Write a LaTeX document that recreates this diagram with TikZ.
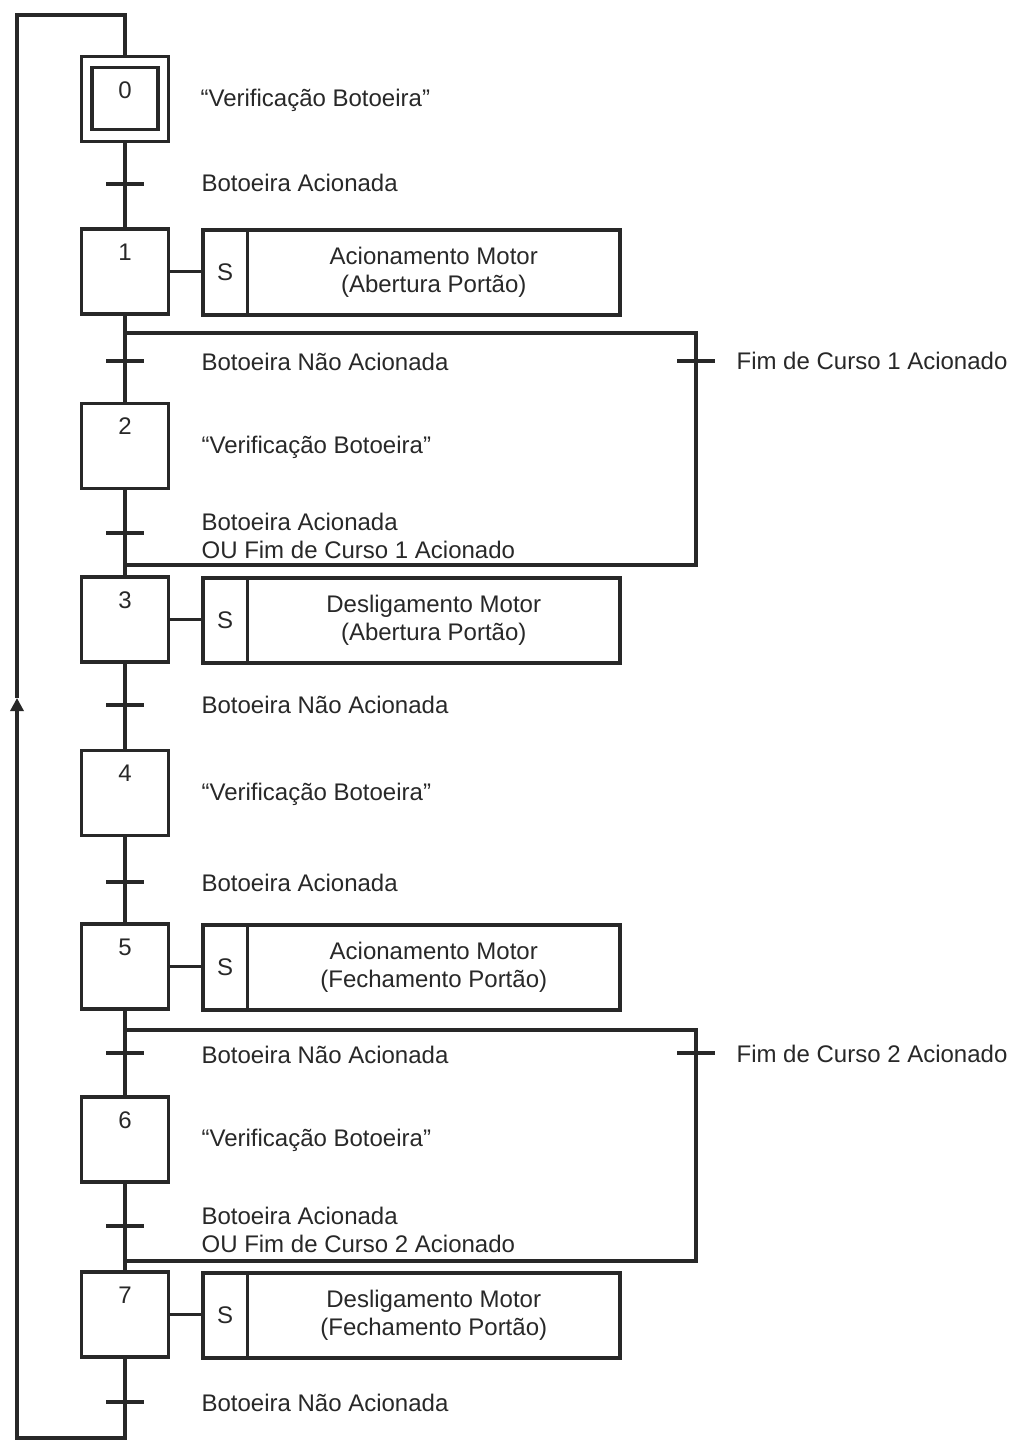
\documentclass[tikz,border=0pt]{standalone}
\usepackage{fontspec}
\setmainfont{Liberation Sans}
\usetikzlibrary{arrows.meta}
\definecolor{ink}{RGB}{40,40,40}
\begin{document}
\begin{tikzpicture}[x=1pt,y=-1pt,line width=3.2pt,draw=ink,text=ink,
  every node/.style={font=\fontsize{24}{28}\selectfont},
  stepbox/.style={draw,rectangle,minimum width=87pt,minimum height=85pt,inner sep=0pt},
  innerbox/.style={draw,rectangle,minimum width=66pt,minimum height=62pt,inner sep=0pt},
  num/.style={inner sep=0pt},
  tick/.style={minimum width=38pt,minimum height=0pt,inner sep=0pt,outer sep=0pt},
  lbl/.style={anchor=west,align=left,inner sep=0pt},
  scell/.style={draw,rectangle,minimum width=44.5pt,minimum height=85pt,inner sep=0pt,outer sep=0pt},
  acell/.style={draw,rectangle,minimum width=372.5pt,minimum height=85pt,inner sep=0pt,outer sep=0pt,align=center,anchor=west},
]
\useasboundingbox (0,0) rectangle (1024,1450);
\fill[white] (0,0) rectangle (1024,1450);

% step 0
\node[stepbox] (s0) at (125,99) {};
\node[innerbox] (s0i) at (125,98.5) {};
\node[num] (n0) at (125,90) {0};
\node[lbl] (l0) at (199,100) {“Verificação Botoeira”};
\node[tick] (t0) at (125,184) {};
\node[lbl] (lt0) at (200,183) {Botoeira Acionada};

% step 1
\node[stepbox] (s1) at (125,271.5) {};
\node[num] (n1) at (125,252) {1};
\node[scell] (a1s) at (225.25,272.5) {S};
\node[acell] (a1) at (a1s.east) {Acionamento Motor\\(Abertura Portão)};
\coordinate (d1) at (125,333);
\coordinate (d1r) at (696,333);
\node[tick] (t1) at (125,361) {};
\node[lbl] (lt1) at (200,362) {Botoeira Não Acionada};
\node[tick] (tr1) at (696,361) {};
\node[lbl] (ltr1) at (735,361) {Fim de Curso 1 Acionado};

% step 2
\node[stepbox] (s2) at (125,446) {};
\node[num] (n2) at (125,426.5) {2};
\node[lbl] (l2) at (200,447) {“Verificação Botoeira”};
\node[tick] (t2) at (125,533) {};
\node[lbl] (lt2) at (200,536) {Botoeira Acionada\\OU Fim de Curso 1 Acionado};
\coordinate (c1r) at (696,565);
\coordinate (c1) at (125,565);

% step 3
\node[stepbox] (s3) at (125,619.5) {};
\node[num] (n3) at (125,600) {3};
\node[scell] (a3s) at (225.25,620.5) {S};
\node[acell] (a3) at (a3s.east) {Desligamento Motor\\(Abertura Portão)};
\node[tick] (t3) at (125,705) {};
\node[lbl] (lt3) at (200,705) {Botoeira Não Acionada};

% step 4
\node[stepbox] (s4) at (125,793) {};
\node[num] (n4) at (125,773.5) {4};
\node[lbl] (l4) at (200,794) {“Verificação Botoeira”};
\node[tick] (t4) at (125,882) {};
\node[lbl] (lt4) at (200,883) {Botoeira Acionada};

% step 5
\node[stepbox] (s5) at (125,966.5) {};
\node[num] (n5) at (125,947) {5};
\node[scell] (a5s) at (225.25,967.5) {S};
\node[acell] (a5) at (a5s.east) {Acionamento Motor\\(Fechamento Portão)};
\coordinate (d2) at (125,1030);
\coordinate (d2r) at (696,1030);
\node[tick] (t5) at (125,1053) {};
\node[lbl] (lt5) at (200,1055) {Botoeira Não Acionada};
\node[tick] (tr5) at (696,1053) {};
\node[lbl] (ltr5) at (735,1054) {Fim de Curso 2 Acionado};

% step 6
\node[stepbox] (s6) at (125,1139.5) {};
\node[num] (n6) at (125,1120) {6};
\node[lbl] (l6) at (200,1140) {“Verificação Botoeira”};
\node[tick] (t6) at (125,1226) {};
\node[lbl] (lt6) at (200,1230) {Botoeira Acionada\\OU Fim de Curso 2 Acionado};
\coordinate (c2r) at (696,1261);
\coordinate (c2) at (125,1261);

% step 7
\node[stepbox] (s7) at (125,1314.5) {};
\node[num] (n7) at (125,1295) {7};
\node[scell] (a7s) at (225.25,1315.5) {S};
\node[acell] (a7) at (a7s.east) {Desligamento Motor\\(Fechamento Portão)};
\node[tick] (t7) at (125,1402) {};
\node[lbl] (lt7) at (200,1403) {Botoeira Não Acionada};

% loop coordinates
\coordinate (b1) at (125,1438);
\coordinate (b2) at (17,1438);
\coordinate (ar) at (17,698);
\coordinate (tp1) at (17,15);
\coordinate (tp2) at (125,15);

% main links
\draw (s0) -- (s1);
\draw (s1) -- (s2);
\draw (s2) -- (s3);
\draw (s3) -- (s4);
\draw (s4) -- (s5);
\draw (s5) -- (s6);
\draw (s6) -- (s7);

% action links
\draw (s1.east) -- (s1.east -| a1s.west);
\draw (s3.east) -- (s3.east -| a3s.west);
\draw (s5.east) -- (s5.east -| a5s.west);
\draw (s7.east) -- (s7.east -| a7s.west);

% alternative branches
\draw (d1) -- (d1r) -- (c1r) -- (c1);
\draw (d2) -- (d2r) -- (c2r) -- (c2);

% transitions
\foreach \t in {t0,t1,t2,t3,t4,t5,t6,t7,tr1,tr5}
  \draw (\t.west) -- (\t.east);

% return loop
\draw[-{Triangle[length=13pt,width=13pt]}] (s7) -- (b1) -- (b2) -- (ar);
\draw (ar) -- (tp1) -- (tp2) -- (s0);
\end{tikzpicture}
\end{document}
